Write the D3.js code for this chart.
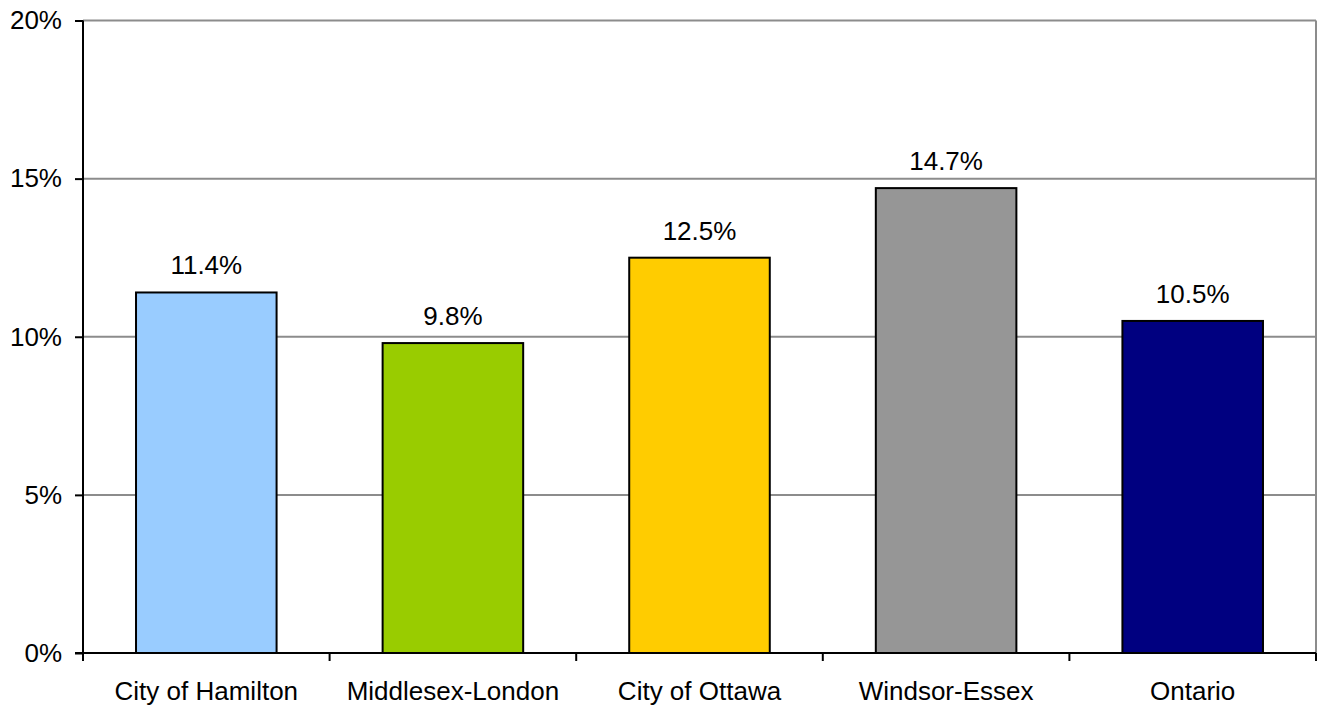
<!DOCTYPE html>
<html><head><meta charset="utf-8">
<script src="https://cdn.jsdelivr.net/npm/d3@7"></script>
<style>body{margin:0;background:#fff}svg{display:block}text{font-family:"Liberation Sans",Arial,sans-serif;fill:#000}</style>
</head><body>
<svg id="c" width="1317" height="707"></svg>
<script>
const categories = ["City of Hamilton","Middlesex-London","City of Ottawa","Windsor-Essex","Ontario"];
const values = [11.4, 9.8, 12.5, 14.7, 10.5];
const colors = ["#99CCFF","#99CC00","#FFCC00","#969696","#000080"];
const yTicks = [0,5,10,15,20];

const svg = d3.select("#c");
const m = {l:83, r:1316, t:20.5, b:653};
const FS = "26px";
const x = d3.scaleBand().domain(categories).range([m.l, m.r]).paddingInner(0.43).paddingOuter(0.215);
const y = d3.scaleLinear().domain([0,20]).range([m.b, m.t]);

svg.append("g").selectAll("line").data(yTicks.filter(d=>d>0)).join("line")
  .attr("x1", m.l).attr("x2", m.r).attr("y1", d=>y(d)).attr("y2", d=>y(d))
  .attr("stroke", "#8c8c8c").attr("stroke-width", 2);
svg.append("line").attr("x1", m.r).attr("x2", m.r).attr("y1", m.t).attr("y2", m.b)
  .attr("stroke", "#8c8c8c").attr("stroke-width", 2);

svg.append("g").selectAll("rect").data(categories).join("rect")
  .attr("x", d=>x(d)).attr("width", x.bandwidth())
  .attr("y", (d,i)=>y(values[i])).attr("height", (d,i)=>y(0)-y(values[i]))
  .attr("fill", (d,i)=>colors[i]).attr("stroke", "#000").attr("stroke-width", 2);

svg.append("g").selectAll("text").data(categories).join("text")
  .attr("x", d=>x(d)+x.bandwidth()/2).attr("y", (d,i)=>y(values[i])-18)
  .attr("text-anchor","middle").style("font-size",FS)
  .text((d,i)=>values[i].toFixed(1)+"%");

const yAxis = d3.axisLeft(y).tickValues(yTicks).tickFormat(d=>d+"%").tickSize(8).tickPadding(13);
const gy = svg.append("g").attr("transform",`translate(${m.l},0)`).call(yAxis);
gy.attr("font-size", null).attr("font-family", null);
gy.select(".domain").attr("stroke","#000").attr("stroke-width",2).attr("d",`M0,${m.t}V${m.b}`);
gy.selectAll(".tick line").attr("stroke","#000").attr("stroke-width",2);
gy.selectAll("text").style("font-size",FS).attr("fill","#000");

const xEdges = d3.range(categories.length+1).map(i => m.l + i*(m.r-m.l)/categories.length);
svg.append("line").attr("x1", m.l-8).attr("x2", m.r).attr("y1", m.b).attr("y2", m.b)
  .attr("stroke","#000").attr("stroke-width",2);
svg.append("g").selectAll("line").data(xEdges).join("line")
  .attr("x1", d=>d).attr("x2", d=>d).attr("y1", m.b).attr("y2", m.b+8)
  .attr("stroke","#000").attr("stroke-width",2);
svg.append("g").selectAll("text").data(categories).join("text")
  .attr("x", d=>x(d)+x.bandwidth()/2).attr("y", 700)
  .attr("text-anchor","middle").style("font-size",FS).text(d=>d);
</script>
</body></html>
